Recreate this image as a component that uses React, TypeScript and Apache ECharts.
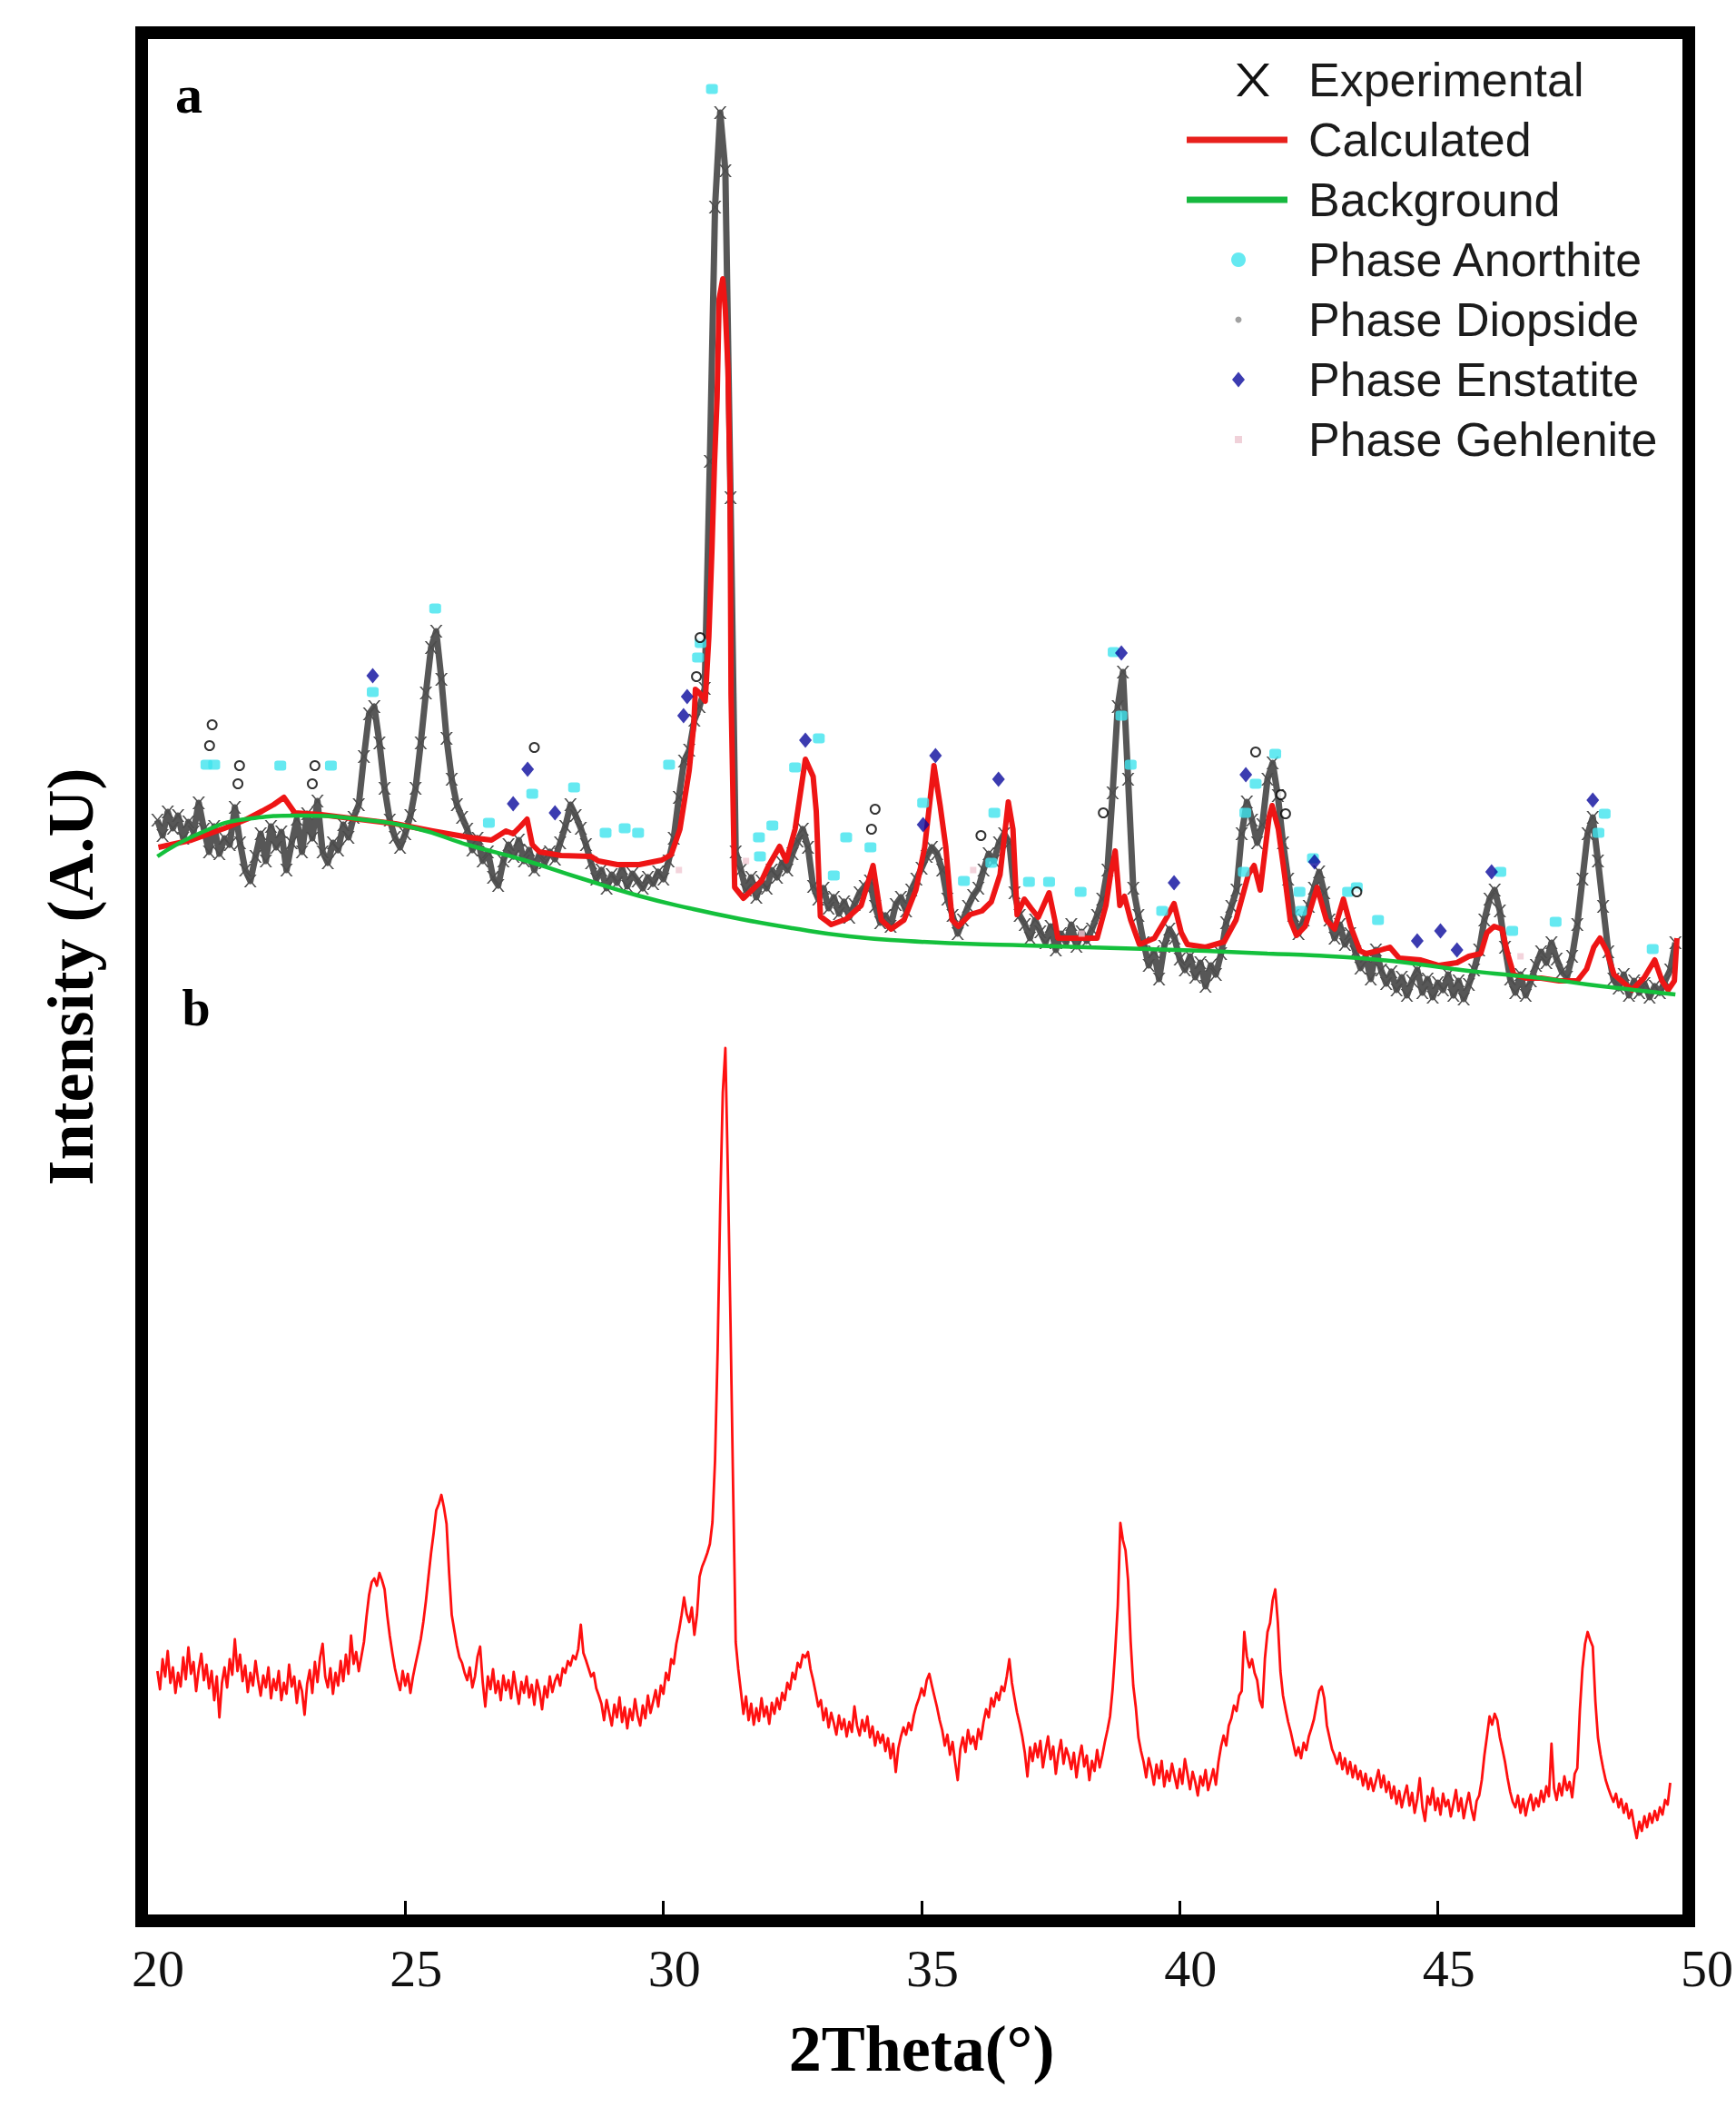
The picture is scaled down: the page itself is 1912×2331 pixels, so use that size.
import React, { useEffect, useRef } from "react";
import * as echarts from "echarts";

// ---------- axis ----------
const X_TICKS = [20, 25, 30, 35, 40, 45, 50];
const X_TICK_MARKS = [25, 30, 35, 40, 45];

// ---------- panel a : experimental pattern (2theta start / step, intensity A.U.) ----------
const EXP_START = 20.2;
const EXP_STEP = 0.1;
const experimental = [
  1205, 1188, 1214, 1196, 1210, 1185, 1203, 1192, 1224, 1195,
  1170, 1198, 1168, 1185, 1178, 1219, 1180, 1150, 1138, 1165,
  1190, 1160, 1198, 1175, 1192, 1150, 1180, 1206, 1170, 1212,
  1185, 1226, 1170, 1158, 1180, 1172, 1200, 1186, 1208, 1222,
  1275, 1322, 1330, 1290, 1240, 1205, 1186, 1175, 1190, 1210,
  1240, 1290, 1345, 1395, 1413, 1360, 1295, 1250, 1222, 1208,
  1195, 1172, 1185, 1160, 1170, 1142, 1133, 1160, 1178, 1165,
  1183, 1160, 1172, 1150, 1168, 1158, 1170, 1162, 1180, 1198,
  1222, 1210, 1196, 1178, 1158, 1140, 1150, 1130, 1145, 1136,
  1152, 1132, 1146, 1138, 1130, 1142, 1135, 1148, 1140, 1160,
  1185, 1230, 1270, 1282, 1315, 1330, 1350, 1600, 1880, 1984,
  1920, 1560, 1170, 1150, 1128, 1142, 1120, 1138, 1130, 1150,
  1142, 1158, 1150, 1168, 1182, 1195, 1175, 1132, 1118, 1130,
  1108, 1120, 1102, 1115, 1098, 1112, 1125, 1132, 1138, 1110,
  1092, 1100, 1088, 1112, 1120, 1105, 1128, 1140, 1152, 1165,
  1175, 1168, 1150, 1118, 1100, 1080, 1095, 1110, 1122, 1130,
  1150, 1168, 1160, 1180, 1190, 1180, 1125, 1100, 1090, 1075,
  1095, 1082, 1070, 1088, 1062, 1080, 1070, 1090, 1066, 1082,
  1072, 1085, 1100, 1118, 1150, 1235, 1330, 1368, 1250, 1130,
  1100, 1070, 1045, 1060, 1030, 1066, 1085, 1075, 1052, 1040,
  1055, 1032, 1048, 1022, 1045, 1035, 1058, 1092, 1110, 1128,
  1190, 1225, 1205, 1180, 1200, 1250, 1268, 1232, 1180, 1140,
  1100, 1080, 1095, 1110, 1130, 1148, 1125, 1095, 1075, 1090,
  1068, 1080, 1060, 1042, 1055, 1030, 1062, 1040, 1025, 1038,
  1018, 1032, 1012, 1028, 1040, 1015, 1030, 1010, 1026, 1018,
  1035, 1012, 1028, 1008, 1024, 1040, 1062, 1095, 1118, 1128,
  1105, 1065, 1030, 1015, 1035, 1012, 1028, 1045, 1060, 1048,
  1070, 1052, 1038, 1032, 1055, 1090, 1140, 1190, 1208, 1160,
  1110, 1060, 1030, 1020, 1035, 1012, 1028, 1015, 1025, 1010,
  1022, 1015, 1028, 1040, 1070,
];

// ---------- panel a : calculated profile [2theta, intensity] ----------
const calculated = [
  [20.22, 1175], [20.86, 1183], [21.5, 1196], [21.93, 1206], [22.23, 1215], [22.45, 1222],
  [22.65, 1230], [22.86, 1213], [23.37, 1211], [24.09, 1206], [24.81, 1201], [25.53, 1193],
  [26.23, 1186], [26.67, 1183], [26.95, 1193], [27.09, 1190], [27.23, 1198], [27.36, 1206],
  [27.46, 1178], [27.6, 1170], [28.02, 1166], [28.6, 1165], [28.74, 1160], [29.11, 1156],
  [29.53, 1156], [29.97, 1161], [30.15, 1167], [30.32, 1195], [30.5, 1260], [30.59, 1311],
  [30.62, 1349], [30.7, 1345], [30.81, 1336], [30.88, 1407], [30.94, 1503], [30.99, 1599],
  [31.04, 1670], [31.08, 1779], [31.15, 1801], [31.2, 1766], [31.25, 1702], [31.29, 1577],
  [31.31, 1343], [31.34, 1253], [31.38, 1131], [31.55, 1119], [31.9, 1138], [32.03, 1154],
  [32.25, 1176], [32.38, 1160], [32.55, 1195], [32.75, 1272], [32.9, 1253], [32.96, 1215],
  [33.04, 1099], [33.25, 1090], [33.54, 1096], [33.83, 1111], [34.06, 1155], [34.22, 1095],
  [34.41, 1085], [34.66, 1095], [34.89, 1128], [35.06, 1175], [35.24, 1265], [35.36, 1221],
  [35.47, 1175], [35.59, 1095], [35.71, 1088], [35.94, 1101], [36.17, 1105], [36.35, 1115],
  [36.52, 1145], [36.68, 1225], [36.77, 1195], [36.85, 1101], [36.99, 1118], [37.12, 1108],
  [37.26, 1098], [37.47, 1125], [37.58, 1095], [37.64, 1075], [38.05, 1075], [38.4, 1075],
  [38.57, 1111], [38.66, 1145], [38.75, 1171], [38.84, 1111], [38.93, 1121], [39.05, 1095],
  [39.22, 1068], [39.51, 1075], [39.75, 1098], [39.89, 1113], [40.03, 1081], [40.15, 1068],
  [40.5, 1065], [40.86, 1071], [41.09, 1095], [41.33, 1145], [41.44, 1155], [41.56, 1128],
  [41.73, 1208], [41.79, 1221], [41.91, 1195], [42.03, 1145], [42.14, 1095], [42.26, 1078],
  [42.43, 1088], [42.66, 1131], [42.84, 1095], [43.0, 1085], [43.17, 1118], [43.31, 1088],
  [43.49, 1061], [43.61, 1058], [43.84, 1061], [44.07, 1065], [44.25, 1053], [44.67, 1051],
  [45.02, 1045], [45.37, 1048], [45.6, 1055], [45.83, 1058], [45.95, 1081], [46.09, 1088],
  [46.24, 1085], [46.35, 1058], [46.47, 1035], [46.7, 1031], [47.0, 1031], [47.35, 1028],
  [47.7, 1028], [47.88, 1041], [48.02, 1065], [48.14, 1075], [48.27, 1061], [48.41, 1035],
  [48.76, 1018], [48.99, 1031], [49.2, 1051], [49.34, 1028], [49.46, 1018], [49.58, 1028],
  [49.63, 1075],
];

// ---------- panel a : background ----------
const background = [
  [20.2, 1165], [21.0, 1190], [21.9, 1206], [23.0, 1210], [24.1, 1206], [25.2, 1196],
  [26.2, 1178], [27.3, 1161], [28.4, 1141], [29.5, 1122], [30.5, 1108], [31.5, 1096],
  [32.5, 1086], [33.6, 1077], [34.7, 1072], [35.8, 1069], [37.0, 1067], [38.2, 1065],
  [39.4, 1063], [40.5, 1061], [41.7, 1058], [42.6, 1056], [43.5, 1053], [44.4, 1048],
  [45.3, 1041], [46.1, 1036], [47.0, 1031], [47.9, 1024], [48.8, 1018], [49.6, 1013],
];

// ---------- panel a : phase reflection markers ----------
const anorthite = [
  [21.15, 1266], [21.3, 1266], [22.58, 1265], [23.56, 1265], [24.37, 1346], [25.58, 1438],
  [26.62, 1202], [27.46, 1234], [28.27, 1241], [28.88, 1191], [29.25, 1196], [29.51, 1191],
  [30.11, 1266], [30.67, 1384], [30.72, 1400], [30.94, 2010], [31.85, 1186], [31.87, 1165],
  [32.11, 1199], [32.55, 1263], [33.01, 1295], [33.3, 1144], [33.54, 1186], [34.01, 1175],
  [35.03, 1224], [35.82, 1138], [36.35, 1158], [36.41, 1213], [37.08, 1137], [37.47, 1137],
  [38.08, 1126], [38.72, 1390], [38.87, 1320], [39.05, 1266], [39.66, 1105], [41.24, 1148],
  [41.27, 1213], [41.47, 1245], [41.85, 1278], [42.32, 1126], [42.35, 1105], [42.58, 1163],
  [43.26, 1126], [43.43, 1131], [43.84, 1095], [46.21, 1148], [46.44, 1083], [47.28, 1093],
  [48.11, 1191], [48.23, 1212], [49.16, 1063],
];
const diopside = [
  [21.21, 1287], [21.26, 1310], [21.76, 1245], [21.79, 1265], [23.2, 1245], [23.25, 1265],
  [27.5, 1285], [30.64, 1363], [30.71, 1406], [34.03, 1195], [34.1, 1217], [36.15, 1188],
  [38.52, 1213], [41.47, 1280], [41.96, 1233], [42.05, 1212], [43.43, 1126],
];
const enstatite = [
  [24.37, 1364], [27.09, 1223], [27.37, 1261], [27.9, 1213], [30.39, 1320], [30.46, 1341],
  [32.75, 1293], [35.03, 1200], [35.27, 1276], [36.49, 1250], [38.87, 1389], [39.89, 1136],
  [41.28, 1255], [42.61, 1159], [44.6, 1072], [45.05, 1083], [45.37, 1062], [46.04, 1148],
  [48.0, 1227],
];
const gehlenite = [
  [30.3, 1150], [31.6, 1160], [36.0, 1150], [38.1, 1080], [46.6, 1055],
];

// ---------- panel b : raw pattern ----------
const B_START = 20.2;
const B_STEP = 0.05;
const patternB = [
  268, 248, 281, 262, 290, 255, 272, 244, 266, 251, 283, 259, 294, 265, 278, 246, 270, 287, 258, 275,
  249, 268, 236, 262, 217, 255, 272, 250, 281, 264, 303, 268, 286, 257, 274, 245, 266, 252, 279, 258,
  241, 263, 250, 272, 238, 259, 247, 268, 236, 255, 243, 275, 251, 262, 233, 257, 246, 220, 254, 269,
  244, 278, 256, 283, 298, 262, 250, 271, 243, 266, 252, 279, 257, 286, 265, 307, 276, 289, 268, 284,
  300, 328, 352, 366, 370, 362, 376, 368, 358, 330, 307, 288, 271, 258, 247, 268, 252, 265, 244, 262,
  276, 289, 303, 322, 345, 372, 398, 420, 445, 452, 462, 448, 430, 376, 330, 313, 296, 283, 277, 266,
  258, 272, 250, 262, 284, 295, 256, 229, 262, 248, 270, 244, 257, 236, 263, 247, 258, 238, 267, 249,
  232, 256, 244, 262, 239, 253, 231, 258, 246, 226, 251, 239, 262, 245, 257, 264, 252, 271, 266, 279,
  274, 285, 281, 292, 319, 288, 280, 271, 262, 266, 249, 241, 232, 214, 236, 222, 208, 231, 217, 239,
  212, 228, 205, 226, 214, 237, 219, 208, 230, 216, 241, 222, 234, 247, 229, 252, 243, 266, 258, 281,
  276, 298, 312, 329, 349, 331, 322, 338, 308, 330, 372, 383, 390, 398, 408, 432, 500, 620, 780, 905,
  954, 812, 650, 470, 300, 270, 246, 221, 240, 214, 232, 209, 227, 213, 238, 218, 229, 210, 233, 221,
  238, 226, 244, 236, 255, 248, 266, 259, 277, 272, 286, 283, 289, 270, 258, 244, 229, 236, 214, 227,
  206, 222, 211, 198, 219, 204, 215, 196, 212, 201, 229, 208, 197, 214, 202, 218, 195, 207, 186, 201,
  189, 198, 180, 194, 172, 188, 157, 183, 196, 206, 198, 211, 203, 219, 230, 238, 249, 241, 258, 265,
  252, 240, 228, 214, 203, 186, 198, 176, 190, 168, 148, 182, 195, 179, 203, 188, 196, 182, 204, 193,
  212, 226, 217, 238, 229, 244, 236, 251, 246, 262, 281, 255, 238, 222, 210, 196, 178, 152, 184, 169,
  188, 173, 191, 162, 180, 196, 171, 185, 155, 177, 192, 166, 183, 174, 160, 178, 151, 172, 186, 163,
  175, 148, 169, 158, 181, 162, 175, 190, 203, 218, 248, 290, 340, 431, 412, 401, 368, 300, 252, 228,
  195, 180, 168, 151, 172, 160, 143, 165, 150, 169, 141, 158, 147, 166, 152, 139, 160, 144, 171, 155,
  138, 157, 146, 131, 152, 142, 159, 137, 148, 160, 143, 168, 185, 197, 186, 208, 216, 230, 224, 241,
  246, 311, 284, 272, 281, 266, 258, 236, 228, 282, 311, 321, 346, 358, 322, 268, 241, 226, 212, 201,
  188, 175, 184, 172, 189, 181, 196, 205, 215, 231, 246, 251, 238, 208, 195, 182, 175, 166, 178, 160,
  172, 155, 168, 151, 164, 149, 158, 142, 155, 138, 150, 136, 147, 159, 140, 153, 135, 146, 128, 141,
  122, 136, 118, 131, 142, 120, 134, 112, 127, 150, 118, 103, 130, 121, 139, 115, 128, 110, 133, 119,
  126, 108, 122, 137, 114, 128, 106, 121, 134, 116, 104, 125, 131, 148, 175, 196, 218, 209, 221, 214,
  195, 182, 168, 150, 135, 124, 118, 131, 112, 127, 109, 123, 132, 115, 128, 119, 136, 124, 141, 130,
  188, 139, 126, 144, 131, 152, 137, 146, 129, 155, 161, 225, 271, 298, 311, 302, 295, 235, 195, 176,
  161, 148, 139, 131, 124, 133, 118, 127, 112, 122, 106, 115, 98, 84, 102, 92, 108, 96, 111, 101,
  114, 104, 118, 110, 126, 121, 145,
];

const LEGEND_NAMES = [
  "Experimental",
  "Calculated",
  "Background",
  "Phase Anorthite",
  "Phase Diopside",
  "Phase Enstatite",
  "Phase Gehlenite",
];

const SERIF = "'Liberation Serif', 'Times New Roman', serif";
const SANS = "'Liberation Sans', Arial, sans-serif";
const X_PATH =
  "path://M0,0L1.5,0L5,4.2L8.5,0L10,0L5.75,5L10,10L8.5,10L5,5.8L1.5,10L0,10L4.25,5Z";

function toPairs(start: number, step: number, values: number[]) {
  return values.map((v, i) => [Number((start + i * step).toFixed(2)), v]);
}

export default function App() {
  const ref = useRef<HTMLDivElement | null>(null);

  useEffect(() => {
    if (!ref.current) return;
    const chart = echarts.init(ref.current, undefined, { renderer: "svg" });

    // legend rows: icon box centred on cx, text starting at x = 1441
    const TEXT_X = 1441;
    const legendSpecs = [
      { icon: X_PATH, w: 36, h: 36, cx: 1380, color: "#111111" },
      { icon: "rect", w: 111, h: 7, cx: 1362.5, color: "#e8201c" },
      { icon: "rect", w: 111, h: 7, cx: 1362.5, color: "#16b83e" },
      { icon: "circle", w: 16, h: 16, cx: 1364, color: "#3fe3ee" },
      { icon: "circle", w: 7, h: 7, cx: 1364, color: "#8a8a8a" },
      { icon: "diamond", w: 14, h: 17, cx: 1364, color: "#0a0a9c" },
      { icon: "rect", w: 8, h: 8, cx: 1364, color: "#ecc6d0" },
    ];

    const option: any = {
      animation: false,
      backgroundColor: "#ffffff",
      grid: { left: 162, right: 41, top: 43, bottom: 223, containLabel: false },
      xAxis: {
        type: "value",
        min: X_TICKS[0],
        max: X_TICKS[X_TICKS.length - 1],
        interval: X_TICKS[1] - X_TICKS[0],
        axisLine: { show: false },
        axisTick: {
          show: true,
          inside: true,
          length: 15,
          customValues: X_TICK_MARKS,
          lineStyle: { color: "#000", width: 3 },
        },
        splitLine: { show: false },
        axisLabel: {
          show: true,
          customValues: X_TICKS,
          showMinLabel: true,
          showMaxLabel: true,
          margin: 30,
          fontFamily: SERIF,
          fontSize: 58,
          color: "#111",
          padding: [0, 0, 0, 24],
        },
        name: "2Theta(°)",
        nameLocation: "middle",
        nameGap: 112,
        nameTextStyle: {
          fontFamily: SERIF,
          fontWeight: "bold",
          fontSize: 72,
          color: "#000",
        },
      },
      yAxis: {
        type: "value",
        min: 0,
        max: 2065,
        axisLine: { show: false },
        axisTick: { show: false },
        axisLabel: { show: false },
        splitLine: { show: false },
        name: "Intensity (A.U)",
        nameLocation: "middle",
        nameGap: 48,
        nameTextStyle: {
          fontFamily: SERIF,
          fontWeight: "bold",
          fontSize: 72,
          color: "#000",
        },
      },
      legend: legendSpecs.map((s, i) => ({
        show: true,
        orient: "vertical",
        left: s.cx - s.w / 2,
        top: 60 + i * 66,
        padding: 0,
        itemGap: 0,
        itemWidth: s.w,
        itemHeight: s.h,
        symbolKeepAspect: false,
        selectedMode: false,
        data: [
          {
            name: LEGEND_NAMES[i],
            icon: s.icon,
            itemStyle: { color: s.color, borderWidth: 0 },
          },
        ],
        textStyle: {
          fontFamily: SANS,
          fontSize: 52,
          color: "#1c1c1c",
          lineHeight: 56,
          padding: [0, 0, 0, TEXT_X - (s.cx + s.w / 2) - 5],
        },
      })),
      graphic: [
        {
          type: "rect",
          z: 100,
          shape: { x: 156, y: 36, width: 1704, height: 2079 },
          style: { fill: "none", stroke: "#000", lineWidth: 14 },
        },
        {
          type: "text",
          z: 100,
          x: 208,
          y: 104,
          style: {
            text: "a",
            fontFamily: SERIF,
            fontWeight: "bold",
            fontSize: 60,
            fill: "#000",
            align: "center",
            verticalAlign: "middle",
          },
        },
        {
          type: "text",
          z: 100,
          x: 216,
          y: 1110,
          style: {
            text: "b",
            fontFamily: SERIF,
            fontWeight: "bold",
            fontSize: 56,
            fill: "#000",
            align: "center",
            verticalAlign: "middle",
          },
        },
      ],
      series: [
        {
          name: LEGEND_NAMES[0],
          type: "line",
          data: toPairs(EXP_START, EXP_STEP, experimental),
          showSymbol: true,
          symbol: X_PATH,
          symbolSize: 14,
          itemStyle: { color: "#4d4d4d" },
          lineStyle: { color: "#575757", width: 7, join: "round" },
          silent: true,
          z: 2,
        },
        {
          name: LEGEND_NAMES[1],
          type: "line",
          data: calculated,
          symbol: "none",
          lineStyle: { color: "#ee1515", width: 6, join: "round" },
          itemStyle: { color: "#ee1515" },
          silent: true,
          z: 3,
        },
        {
          name: LEGEND_NAMES[2],
          type: "line",
          data: background,
          smooth: 0.5,
          symbol: "none",
          lineStyle: { color: "#14c03c", width: 4.5 },
          itemStyle: { color: "#14c03c" },
          silent: true,
          z: 4,
        },
        {
          name: LEGEND_NAMES[3],
          type: "scatter",
          data: anorthite,
          symbol: "roundRect",
          symbolSize: [13, 11],
          itemStyle: { color: "#3fe3ee" },
          silent: true,
          z: 5,
        },
        {
          name: LEGEND_NAMES[4],
          type: "scatter",
          data: diopside,
          symbol: "emptyCircle",
          symbolSize: 10,
          itemStyle: { color: "#000", borderColor: "#000", borderWidth: 2.5 },
          silent: true,
          z: 5,
        },
        {
          name: LEGEND_NAMES[5],
          type: "scatter",
          data: enstatite,
          symbol: "diamond",
          symbolSize: [14, 17],
          itemStyle: { color: "#0a0a9c" },
          silent: true,
          z: 6,
        },
        {
          name: LEGEND_NAMES[6],
          type: "scatter",
          data: gehlenite,
          symbol: "rect",
          symbolSize: 7,
          itemStyle: { color: "#f0c8d2" },
          silent: true,
          z: 5,
        },
        {
          name: "b",
          type: "line",
          data: toPairs(B_START, B_STEP, patternB),
          symbol: "none",
          lineStyle: { color: "#ff1010", width: 2.8, join: "round" },
          silent: true,
          z: 3,
        },
      ],
    };

    chart.setOption(option);
    return () => {
      chart.dispose();
    };
  }, []);

  return (
    <div
      ref={ref}
      style={{
        position: "absolute",
        left: 0,
        top: 0,
        width: 1912,
        height: 2331,
        background: "#ffffff",
      }}
    />
  );
}
